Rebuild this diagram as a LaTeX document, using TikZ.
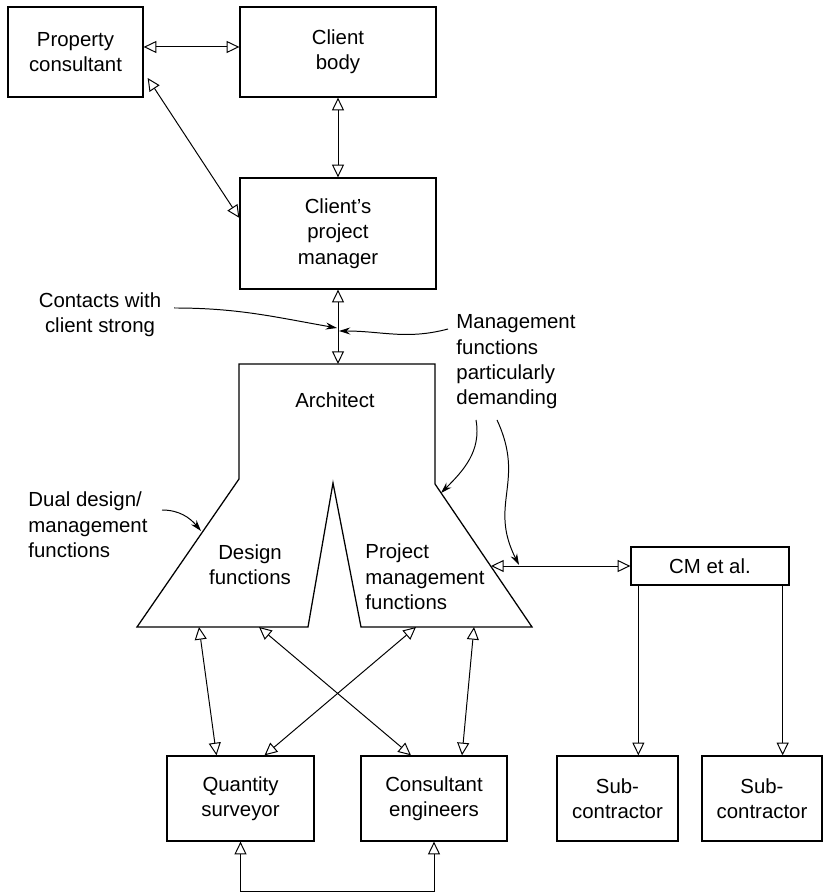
\documentclass[tikz,border=0pt]{standalone}
\usepackage{fontspec}
\setmainfont{Liberation Sans}
\usetikzlibrary{arrows.meta}

\begin{document}
\begin{tikzpicture}[x=0.025cm, y=0.025cm, line width=0.7pt, font=\fontsize{14.5pt}{18pt}\selectfont,
		box/.style = {draw, line width=0.9pt, align=center, inner sep=0pt},
		note/.style = {align=left, inner sep=0pt},
		link/.style = {{Triangle[open,length=9pt,width=8.5pt]}-{Triangle[open,length=9pt,width=8.5pt]}},
		tolink/.style = {-{Triangle[open,length=9pt,width=8.5pt]}},
		pointer/.style = {-{Stealth[length=8pt,width=5pt]}}]
		\useasboundingbox (0,0) rectangle (826,893);
		\node [box, minimum width=3.375cm, minimum height=2.25cm] (pc) at (75.5,841) {Property\\consultant};
		\node [box, minimum width=4.9cm, minimum height=2.25cm] (cb) at (338,841) {Client\\body};
		\node [box, minimum width=4.9cm, minimum height=2.775cm] (cpm) at (338,659.5) {Client’s\\project\\manager};
		\node [box, minimum width=3.95cm, minimum height=0.95cm] (cm) at (710,327) {CM et al.};
		\node [box, minimum width=3.675cm, minimum height=2.125cm] (qs) at (240.5,94.5) {Quantity\\surveyor};
		\node [box, minimum width=3.65cm, minimum height=2.125cm] (ce) at (434,94.5) {Consultant\\engineers};
		\node [box, minimum width=3.025cm, minimum height=2.125cm] (sc1) at (617.5,94.5) {Sub-\\contractor};
		\node [box, minimum width=3cm, minimum height=2.125cm] (sc2) at (762,94.5) {Sub-\\contractor};
	% architect with its two halves
		\draw [line width=0.9pt] (239,529) -- (435,529) -- (435,409) -- (532,266) -- (361,266) -- (333,410)
			-- (308,266) -- (137,266) -- (239,414) -- cycle;
		\coordinate (arch) at (338,529);
		\coordinate (d1) at (199,266);
		\coordinate (d2) at (259,266);
		\coordinate (p1) at (416,266);
		\coordinate (p2) at (474,266);
		\coordinate (pmr) at (491,327);
		\node (archtxt) at (335,493) {Architect};
		\node [align=center] (des) at (250,328.5) {Design\\functions};
		\node [note, anchor=west] (pmf) at (365,316) {Project\\management\\functions};
	% notes
		\node [align=center] (contacts) at (100,578) {Contacts with\\client strong};
		\node [note, anchor=west] (mgmt) at (456,531) {Management\\functions\\particularly\\demanding};
		\node [note, anchor=west] (dual) at (28,368) {Dual design/\\management\\functions};
		\coordinate (c0) at (174,585);
		\coordinate (m0) at (448,564);
		\coordinate (m1) at (476,473);
		\coordinate (m2) at (497,473);
		\coordinate (du0) at (162,383);
		\coordinate (ct1) at (337,565);
		\coordinate (ct2) at (339,562);
		\coordinate (archr) at (441,400);
		\coordinate (archl) at (201,362);
		\coordinate (cmhit) at (519,328);
		\coordinate (cml) at ([xshift=2mm]cm.south west);
		\coordinate (cmr) at ([xshift=-1.75mm]cm.south east);

		\draw [link] ([yshift=1.25mm]pc.east) to ([yshift=1.25mm]cb.west);
		\draw [link] ([xshift=1mm, yshift=-6.5mm]pc.east) to ([yshift=3.9mm]cpm.west);
		\draw [link] (cb.south) to (cpm.north);
		\draw [link] (cpm.south) to (arch);
		\draw [link] (pmr) to (cm.west);
		\draw [tolink] (cml) to (cml |- sc1.north);
		\draw [tolink] (cmr) to (cmr |- sc2.north);
		\draw [link] (d1) to ([xshift=-6mm]qs.north);
		\draw [link] (d2) to ([xshift=-5.75mm]ce.north);
		\draw [link] (p1) to ([xshift=6mm]qs.north);
		\draw [link] (p2) to ([xshift=7mm]ce.north);
		\draw [link] (qs.south) -- ++(0,-50) -| (ce.south);

		\draw [pointer] (c0) to [out=0, in=170] (ct1);
		\draw [pointer] (m0) to [out=195, in=0] (ct2);
		\draw [pointer] (m1) to [out=-80, in=45] (archr);
		\draw [pointer] (m2) to [out=-65, in=117, looseness=1.2] (cmhit);
		\draw [pointer] (du0) to [out=0, in=130] (archl);
\end{tikzpicture}
\end{document}
